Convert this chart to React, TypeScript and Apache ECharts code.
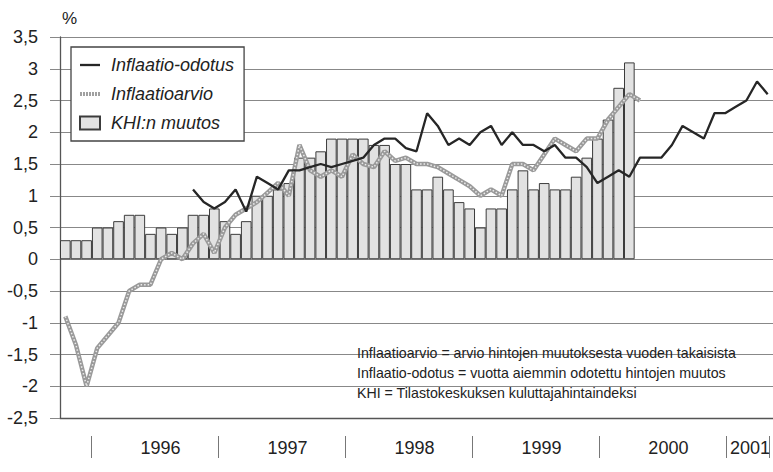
import React, { useEffect, useRef } from "react";
import * as echarts from "echarts";

const months = [
  "1995-10", "1995-11", "1995-12",
  "1996-01", "1996-02", "1996-03", "1996-04", "1996-05", "1996-06", "1996-07", "1996-08", "1996-09", "1996-10", "1996-11", "1996-12",
  "1997-01", "1997-02", "1997-03", "1997-04", "1997-05", "1997-06", "1997-07", "1997-08", "1997-09", "1997-10", "1997-11", "1997-12",
  "1998-01", "1998-02", "1998-03", "1998-04", "1998-05", "1998-06", "1998-07", "1998-08", "1998-09", "1998-10", "1998-11", "1998-12",
  "1999-01", "1999-02", "1999-03", "1999-04", "1999-05", "1999-06", "1999-07", "1999-08", "1999-09", "1999-10", "1999-11", "1999-12",
  "2000-01", "2000-02", "2000-03", "2000-04", "2000-05", "2000-06", "2000-07", "2000-08", "2000-09", "2000-10", "2000-11", "2000-12",
  "2001-01", "2001-02", "2001-03", "2001-04",
];

// KHI:n muutos (bars)
const khiMuutos = [
  0.3, 0.3, 0.3,
  0.5, 0.5, 0.6, 0.7, 0.7, 0.4, 0.5, 0.4, 0.5, 0.7, 0.7, 0.8,
  0.6, 0.4, 0.6, 1.0, 1.0, 1.1, 1.2, 1.6, 1.6, 1.7, 1.9, 1.9,
  1.9, 1.9, 1.8, 1.8, 1.5, 1.5, 1.1, 1.1, 1.3, 1.1, 0.9, 0.8,
  0.5, 0.8, 0.8, 1.1, 1.4, 1.1, 1.2, 1.1, 1.1, 1.3, 1.6, 1.9,
  2.2, 2.7, 3.1,
];

// Inflaatioarvio (grey textured line)
const inflaatioarvio = [
  -0.9, -1.35, -2.0,
  -1.4, -1.2, -1.0, -0.5, -0.4, -0.4, 0.0, 0.1, 0.0, 0.25, 0.4, 0.1,
  0.5, 0.7, 0.8, 0.9, 1.05, 1.2, 1.0, 1.8, 1.4, 1.3, 1.4, 1.3,
  1.65, 1.5, 1.45, 1.7, 1.55, 1.6, 1.5, 1.5, 1.45, 1.35, 1.25, 1.15,
  1.0, 1.1, 1.0, 1.5, 1.5, 1.4, 1.65, 1.9, 1.8, 1.7, 1.9, 1.9,
  2.2, 2.4, 2.6, 2.5,
];

// Inflaatio-odotus (black line)
const inflaatioOdotus = [
  null, null, null,
  null, null, null, null, null, null, null, null, null, 1.1, 0.9, 0.8,
  0.9, 1.1, 0.75, 1.3, 1.2, 1.1, 1.4, 1.4, 1.45, 1.5, 1.45, 1.5,
  1.55, 1.6, 1.8, 1.9, 1.9, 1.75, 1.7, 2.3, 2.1, 1.8, 1.9, 1.8,
  2.0, 2.1, 1.8, 2.0, 1.8, 1.8, 1.7, 1.8, 1.6, 1.6, 1.45, 1.2,
  1.3, 1.4, 1.3, 1.6, 1.6, 1.6, 1.8, 2.1, 2.0, 1.9, 2.3, 2.3,
  2.4, 2.5, 2.8, 2.6,
];

const seriesNames = ["Inflaatio-odotus", "Inflaatioarvio", "KHI:n muutos"];

const notes = [
  "Inflaatioarvio = arvio hintojen muutoksesta vuoden takaisista",
  "Inflaatio-odotus = vuotta aiemmin odotettu hintojen muutos",
  "KHI = Tilastokeskuksen kuluttajahintaindeksi",
];

const FONT = "'Liberation Sans', Arial, 'DejaVu Sans', sans-serif";
const PLOT = { left: 60, top: 37, width: 715.6, height: 381 };

export default function App() {
  const ref = useRef<HTMLDivElement>(null);

  useEffect(() => {
    if (!ref.current) return;
    const chart = echarts.init(ref.current, null, { renderer: "svg" });
    const option: any = {
      animation: false,
      backgroundColor: "#ffffff",
      textStyle: { fontFamily: FONT },
      grid: [
        { ...PLOT, containLabel: false },
        { ...PLOT, containLabel: false, show: false },
      ],
      legend: {
        orient: "vertical",
        left: 71,
        top: 47,
        padding: [9, 10, 9, 7],
        itemGap: 11,
        itemWidth: 20,
        itemHeight: 13,
        backgroundColor: "#ffffff",
        borderColor: "#444",
        borderWidth: 1.3,
        textStyle: {
          fontSize: 18,
          fontStyle: "italic",
          color: "#222",
          fontFamily: FONT,
          padding: [0, 0, 0, 6],
        },
        data: [
          { name: seriesNames[0], itemStyle: { opacity: 0 }, lineStyle: { width: 2.3, color: "#262626" } },
          { name: seriesNames[1], itemStyle: { opacity: 0 }, lineStyle: { width: 4, color: "#a0a0a0", type: [2, 1] } },
          { name: seriesNames[2], icon: "rect" },
        ],
      },
      xAxis: [
        {
          gridIndex: 0,
          type: "category",
          data: months,
          boundaryGap: true,
          axisLine: { show: true, onZero: false, lineStyle: { color: "#555", width: 1.3 } },
          axisTick: { show: false },
          axisLabel: { show: false },
          splitLine: { show: false },
        },
        {
          gridIndex: 1,
          type: "category",
          data: months,
          position: "bottom",
          offset: 18,
          boundaryGap: true,
          axisLine: { show: false, onZero: false },
          axisTick: {
            show: true,
            length: 22,
            interval: (_i: number, v: string) => v.endsWith("-01"),
            lineStyle: { color: "#777", width: 1 },
          },
          axisLabel: {
            show: true,
            interval: (_i: number, v: string) => v.endsWith("-07") || v === "2001-03",
            formatter: (v: string) => (v === "2001-03" ? "{r|" + v.slice(0, 4) + "}" : v.slice(0, 4)),
            rich: { r: { fontSize: 18, color: "#222", fontFamily: FONT, padding: [0, 6, 0, 0] } },
            fontSize: 18,
            color: "#222",
            margin: 3,
          },
          splitLine: { show: false },
        },
      ],
      yAxis: [
        {
          gridIndex: 0,
          type: "value",
          min: -2.5,
          max: 3.5,
          interval: 0.5,
          name: "%",
          nameLocation: "end",
          nameGap: 10,
          nameTextStyle: { fontSize: 17, color: "#222", align: "left", padding: [0, 0, 0, 2] },
          axisLine: { show: true, onZero: false, lineStyle: { color: "#555", width: 1.3 } },
          axisTick: { show: true, length: 10, lineStyle: { color: "#888", width: 1 } },
          axisLabel: {
            fontSize: 18,
            color: "#222",
            margin: 22,
            formatter: (v: number) => String(v).replace(".", ","),
          },
          splitLine: { show: true, lineStyle: { color: "#888", width: 1 } },
        },
        {
          gridIndex: 1,
          type: "value",
          min: -2.5,
          max: 3.5,
          show: false,
          splitLine: { show: false },
        },
      ],
      series: [
        {
          name: seriesNames[2],
          type: "bar",
          xAxisIndex: 0,
          yAxisIndex: 0,
          data: khiMuutos,
          barCategoryGap: "0%",
          itemStyle: { color: "#e2e2e2", borderColor: "#3c3c3c", borderWidth: 1 },
          z: 2,
        },
        {
          name: seriesNames[1],
          type: "line",
          xAxisIndex: 0,
          yAxisIndex: 0,
          data: inflaatioarvio,
          symbol: "none",
          lineStyle: { color: "#9a9a9a", width: 4.5 },
          itemStyle: { color: "#9a9a9a" },
          z: 3,
        },
        {
          name: "arvio-texture",
          type: "line",
          xAxisIndex: 0,
          yAxisIndex: 0,
          data: inflaatioarvio,
          symbol: "none",
          silent: true,
          lineStyle: { color: "#ececec", width: 1.5, type: [1.5, 2] },
          z: 4,
        },
        {
          name: seriesNames[0],
          type: "line",
          xAxisIndex: 0,
          yAxisIndex: 0,
          data: inflaatioOdotus,
          symbol: "none",
          lineStyle: { color: "#262626", width: 2.3 },
          itemStyle: { color: "#262626" },
          z: 5,
        },
      ],
      graphic: notes.map((t, k) => ({
        type: "text",
        left: 357,
        top: 346 + k * 20,
        z: 10,
        style: { text: t, font: `14.2px ${FONT}`, fill: "#222" },
      })),
    };
    chart.setOption(option);
    return () => chart.dispose();
  }, []);

  return (
    <div
      ref={ref}
      style={{ position: "absolute", left: 0, top: 0, width: 773, height: 472, background: "#fff" }}
    />
  );
}
